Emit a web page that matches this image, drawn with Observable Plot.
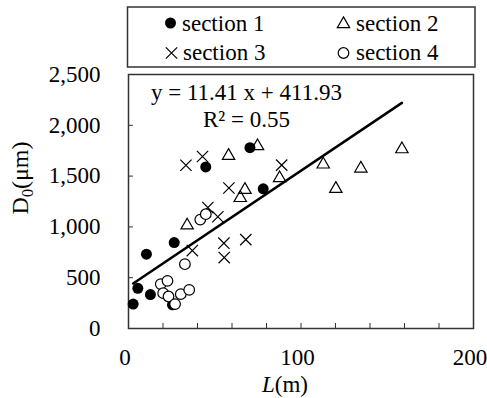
<!DOCTYPE html>
<html><head><meta charset="utf-8">
<script src="https://cdn.jsdelivr.net/npm/d3@7"></script>
<script src="https://cdn.jsdelivr.net/npm/@observablehq/plot@0.6"></script>
<style>
body{margin:0;background:#fff;}
#wrap{width:487px;height:398px;overflow:hidden;font-family:'Liberation Serif',serif;}
svg{display:block;overflow:visible;}
</style></head><body><div id="wrap"></div>
<script>
// ---- data ----
const seriesNames = ["section 1", "section 2", "section 3", "section 4"];
const L1 = [2.7, 5.4, 10.4, 12.7, 26.5, 25.5, 44.8, 70.4, 78.1];
const D1 = [240, 395, 731, 334, 846, 233, 1590, 1780, 1375];
const L2 = [34.0, 58.0, 74.8, 67.5, 64.8, 87.6, 112.9, 120.2, 134.7, 158.5];
const D2 = [1015, 1700, 1795, 1365, 1285, 1480, 1615, 1375, 1575, 1765];
const L3 = [33.3, 42.9, 58.2, 88.8, 46.0, 51.8, 37.0, 55.3, 55.5, 68.0];
const D3 = [1607, 1693, 1383, 1608, 1190, 1100, 767, 840, 698, 875];
const L4 = [18.7, 22.6, 20.1, 23.2, 30.3, 35.2, 27.0, 32.7, 41.6, 44.8];
const D4 = [437, 469, 348, 315, 338, 380, 240, 633, 1072, 1125];
const xTicks = [0, 20, 40, 60, 80, 100, 120, 140, 160, 180, 200];
const xLabels = [0, 100, 200];
const yTicks = [0, 500, 1000, 1500, 2000, 2500];
const slope = 11.41, intercept = 411.93, r2 = 0.55;

const rows = (L, D, s) => L.map((l, i) => ({section: s, L: l, D: D[i]}));
const s1 = rows(L1, D1, seriesNames[0]);
const s2 = rows(L2, D2, seriesNames[1]);
const s3 = rows(L3, D3, seriesNames[2]);
const s4 = rows(L4, D4, seriesNames[3]);
const allL = [...L1, ...L2, ...L3, ...L4];
const fitLine = [d3.min(allL), d3.max(allL)].map(l => ({L: l, D: slope * l + intercept}));

const FONT = "'Liberation Serif',serif";
const wrap = document.getElementById("wrap");

// ---- legend (above the plot) ----
const legend = d3.create("svg").attr("width", 487).attr("height", 70)
  .style("font-family", FONT).style("font-size", "23px");
legend.append("rect").attr("x", 127.5).attr("y", 7).attr("width", 347.5).attr("height", 60)
  .attr("fill", "none").attr("stroke", "#333").attr("stroke-width", 1.5);
const legItems = [
  {name: seriesNames[0], sym: d3.symbolCircle, size: Math.PI * 5.5 * 5.5, fill: "black", stroke: "none", mx: 170.5, my: 23, tx: 182, ty: 31},
  {name: seriesNames[1], sym: d3.symbolTriangle, size: Math.PI * 4.6 * 4.6, fill: "none", stroke: "black", mx: 343.5, my: 24, tx: 356, ty: 31},
  {name: seriesNames[2], sym: d3.symbolTimes, size: Math.PI * 5.2 * 5.2, fill: "none", stroke: "black", mx: 171.5, my: 53, tx: 183, ty: 60},
  {name: seriesNames[3], sym: d3.symbolCircle, size: Math.PI * 5.3 * 5.3, fill: "none", stroke: "black", mx: 343.5, my: 53, tx: 356, ty: 60}
];
for (const it of legItems) {
  legend.append("path").attr("d", d3.symbol(it.sym, it.size)())
    .attr("transform", `translate(${it.mx},${it.my})`)
    .attr("fill", it.fill).attr("stroke", it.stroke).attr("stroke-width", 1.2);
  legend.append("text").attr("x", it.tx).attr("y", it.ty).text(it.name);
}
wrap.appendChild(legend.node());

// ---- plot ----
const chart = Plot.plot({
  width: 487,
  height: 328,
  marginTop: 4,
  marginBottom: 70,
  marginLeft: 128,
  marginRight: 14,
  style: {fontFamily: FONT, fontSize: "23px"},
  x: {domain: [0, 200]},
  y: {domain: [0, 2500]},
  marks: [
    Plot.frame({stroke: "#333", strokeWidth: 1.5}),
    Plot.axisX(xTicks, {tickSize: -5, tickFormat: () => "", label: null, stroke: "#333"}),
    Plot.axisX(xLabels, {tickSize: 0, tickPadding: 20, dx: -3.5, label: null, fontSize: 23}),
    Plot.axisY(yTicks, {tickSize: -5, tickFormat: () => "", label: null, stroke: "#333"}),
    Plot.axisY(yTicks, {tickSize: 0, tickPadding: 28, tickFormat: d3.format(","), label: null, fontSize: 23}),
    Plot.dot(s1, {x: "L", y: "D", r: 5.5, fill: "black", stroke: "none"}),
    Plot.dot(s2, {x: "L", y: "D", r: 4.6, symbol: "triangle", fill: "white", fillOpacity: 0, stroke: "black", strokeWidth: 1.2}),
    Plot.dot(s3, {x: "L", y: "D", r: 5.2, symbol: "times", stroke: "black", strokeWidth: 1.2}),
    Plot.dot(s4, {x: "L", y: "D", r: 5.3, fill: "white", stroke: "black", strokeWidth: 1.2}),
    Plot.line(fitLine, {x: "L", y: "D", stroke: "black", strokeWidth: 2.5}),
    Plot.text([`y = ${slope} x + ${intercept}`], {text: d => d, frameAnchor: "top-left", dx: 118, dy: 25, textAnchor: "middle", lineAnchor: "bottom", fontSize: 23, fill: "black"}),
    Plot.text([`R² = ${r2}`], {text: d => d, frameAnchor: "top-left", dx: 118, dy: 52, textAnchor: "middle", lineAnchor: "bottom", fontSize: 23, fill: "black"})
  ]
});
wrap.appendChild(chart);

// axis titles with subscript / italic parts
const svg = d3.select(chart);
const yl = svg.append("text").attr("transform", "translate(28,108) rotate(-90)")
  .attr("text-anchor", "middle").style("font-family", FONT).style("font-size", "24px").attr("fill", "black");
yl.append("tspan").text("D");
yl.append("tspan").text("0").attr("dy", 5).style("font-size", "16px");
yl.append("tspan").text("(μm)").attr("dy", -5);
const xl = svg.append("text").attr("x", 285).attr("y", 322)
  .attr("text-anchor", "middle").style("font-family", FONT).style("font-size", "23px").attr("fill", "black");
xl.append("tspan").text("L").style("font-style", "italic");
xl.append("tspan").text("(m)");
</script></body></html>
